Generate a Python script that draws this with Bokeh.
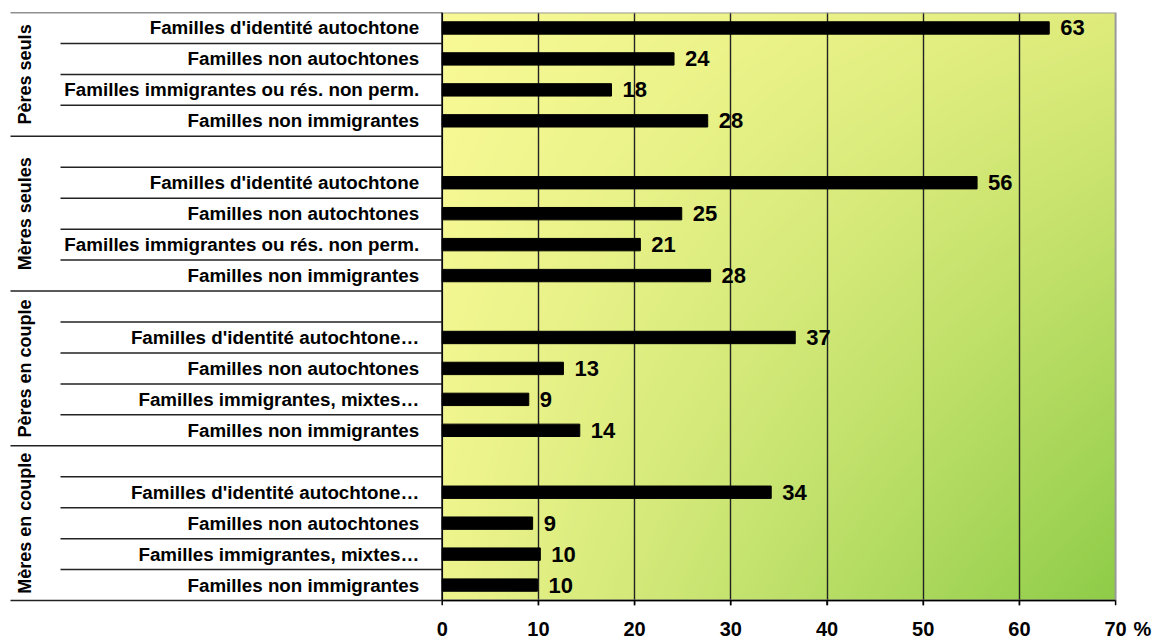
import numpy as np
from bokeh.plotting import figure
from bokeh.models import Range1d, FixedTicker, ColumnDataSource
from bokeh.core.properties import value
from bokeh.embed import file_html
from bokeh.resources import INLINE

# ---------------- data ----------------
groups = ["Pères seuls", "Mères seules", "Pères en couple", "Mères en couple"]

cats_seuls = ["Familles d'identité autochtone", "Familles non autochtones",
              "Familles immigrantes ou rés. non perm.", "Familles non immigrantes"]
cats_couple = ["Familles d'identité autochtone…", "Familles non autochtones",
               "Familles immigrantes, mixtes…", "Familles non immigrantes"]

vals_peres_seuls = [63.1, 24.1, 17.6, 27.6]
vals_meres_seules = [55.6, 24.9, 20.6, 27.9]
vals_peres_couple = [36.7, 12.6, 9.0, 14.3]
vals_meres_couple = [34.2, 9.4, 10.2, 9.9]

xticks = [0, 10, 20, 30, 40, 50, 60, 70]
grid_ticks = [10, 20, 30, 40, 50, 60]
unit_label = "%"

group_cats = [cats_seuls, cats_seuls, cats_couple, cats_couple]
group_vals = [vals_peres_seuls, vals_meres_seules, vals_peres_couple, vals_meres_couple]

# ---------------- layout constants ----------------
N_ROWS = 19
PX0 = 441.7          # screen x of value 0
PPU = 9.62           # pixels per percentage unit
FIG_W, FIG_H = 1164, 642
TOP = 12
BOTTOM_BORDER = 34
TICK_EXT = 0.16      # rows below the axis line kept inside the frame (tick marks)
x_start = (0 - PX0) / PPU
x_end = (FIG_W - PX0) / PPU
long_x0 = (10 - PX0) / PPU
short_x0 = (60 - PX0) / PPU
group_lbl_x = (24 - PX0) / PPU
unit_x = (1142 - PX0) / PPU
FONT = value("Liberation Sans")

# rows, counted from the top
rows, cats, vals, labels = [], [], [], []
for g, (cs, vs) in enumerate(zip(group_cats, group_vals)):
    first = 0 if g == 0 else 5 * g
    for k, (c, v) in enumerate(zip(cs, vs)):
        rows.append(first + k)
        cats.append(c)
        vals.append(v)
        labels.append(f"{v:.0f}")
ys = [N_ROWS - r - 0.5 for r in rows]

group_tops = [0 if g == 0 else 5 * g - 1 for g in range(len(groups))]
group_bottoms = [5 * g + 4 for g in range(len(groups))]
group_ys = [N_ROWS - (t + b) / 2 for t, b in zip(group_tops, group_bottoms)]

long_b = sorted(set(group_tops + [N_ROWS]))
short_b = [b for b in range(N_ROWS + 1) if b not in long_b]

src = ColumnDataSource(dict(y=ys, v=vals, lab=labels, cat=cats, zero=[0] * len(ys)))

p = figure(width=FIG_W, height=FIG_H, x_range=Range1d(x_start, x_end),
           y_range=Range1d(-TICK_EXT, N_ROWS), output_backend="svg",
           toolbar_location=None, y_axis_location=None,
           min_border_left=0, min_border_right=0,
           min_border_top=TOP, min_border_bottom=BOTTOM_BORDER,
           outline_line_color=None)
p.background_fill_color = "white"
p.border_fill_color = "white"

# gradient background of the plot area (bilinear between corner colours)
nx, ny = 336, 296
u = (np.arange(nx) + 0.5) / nx
vtop = 1 - (np.arange(ny) + 0.5) / ny
U, V = np.meshgrid(u, vtop)
c_tl = np.array([249, 250, 150], float)
c_tr = np.array([223, 236, 124], float)
c_bl = np.array([238, 244, 140], float)
c_br = np.array([142, 204, 72], float)
img = np.empty((ny, nx), dtype=np.uint32)
view = img.view(dtype=np.uint8).reshape((ny, nx, 4))
for ch in range(3):
    col = ((1 - U) * (1 - V) * c_tl[ch] + U * (1 - V) * c_tr[ch]
           + (1 - U) * V * c_bl[ch] + U * V * c_br[ch])
    view[:, :, ch] = np.clip(col, 0, 255).astype(np.uint8)
view[:, :, 3] = 255
p.image_rgba(image=[img], x=0, y=0, dw=70, dh=N_ROWS, level="image")

# grid
p.xgrid.ticker = FixedTicker(ticks=grid_ticks)
p.xgrid.grid_line_color = "#222222"
p.xgrid.grid_line_width = 1.4
p.ygrid.visible = False

# plot-area border (grey top/right), black left line
p.quad(left=[0], right=[70], bottom=[0], top=[N_ROWS], fill_color=None,
       line_color="#9a9a9a", line_width=2)
p.segment(x0=[0], x1=[0], y0=[0], y1=[N_ROWS], line_color="black", line_width=1.5)

# axis line and tick marks
p.segment(x0=[xticks[0]], x1=[xticks[-1]], y0=[0], y1=[0],
          line_color="black", line_width=1.6)
p.segment(x0=xticks, x1=xticks, y0=[0] * len(xticks), y1=[-TICK_EXT] * len(xticks),
          line_color="black", line_width=1.5)

# separator lines in the category area
p.segment(x0=[long_x0] * len(long_b), x1=[0] * len(long_b),
          y0=[N_ROWS - b for b in long_b], y1=[N_ROWS - b for b in long_b],
          line_color="#222222", line_width=1.5)
p.segment(x0=[short_x0] * len(short_b), x1=[0] * len(short_b),
          y0=[N_ROWS - b for b in short_b], y1=[N_ROWS - b for b in short_b],
          line_color="#222222", line_width=1.5)

# bars
p.hbar(y="y", left=0, right="v", height=0.4, source=src,
       fill_color="black", line_color="black")

# value labels
p.text(x="v", y="y", text="lab", source=src, x_offset=11, text_align="left",
       text_baseline="middle", text_font=FONT, text_font_style="bold",
       text_font_size="22px", text_color="black")

# category labels
p.text(x="zero", y="y", text="cat", source=src, x_offset=-23, text_align="right",
       text_baseline="middle", text_font=FONT, text_font_style="bold",
       text_font_size="18.8px", text_color="black")

# group labels
p.text(x=[group_lbl_x] * len(groups), y=group_ys, text=groups, angle=np.pi / 2,
       text_align="center", text_baseline="middle", text_font=FONT,
       text_font_style="bold", text_font_size="18px", text_color="black")

# x axis (labels only; line and ticks drawn above)
ax = p.xaxis[0]
ax.ticker = FixedTicker(ticks=xticks + [unit_x])
ax.major_label_overrides = {unit_x: unit_label}
ax.axis_line_color = None
ax.major_tick_line_color = None
ax.minor_tick_line_color = None
ax.major_tick_out = 0
ax.major_tick_in = 0
ax.minor_tick_out = 0
ax.minor_tick_in = 0
ax.major_label_standoff = 12
ax.major_label_text_font = "Liberation Sans"
ax.major_label_text_font_style = "bold"
ax.major_label_text_font_size = "20px"
ax.major_label_text_color = "black"

open("out.html", "w").write(file_html(p, INLINE))
